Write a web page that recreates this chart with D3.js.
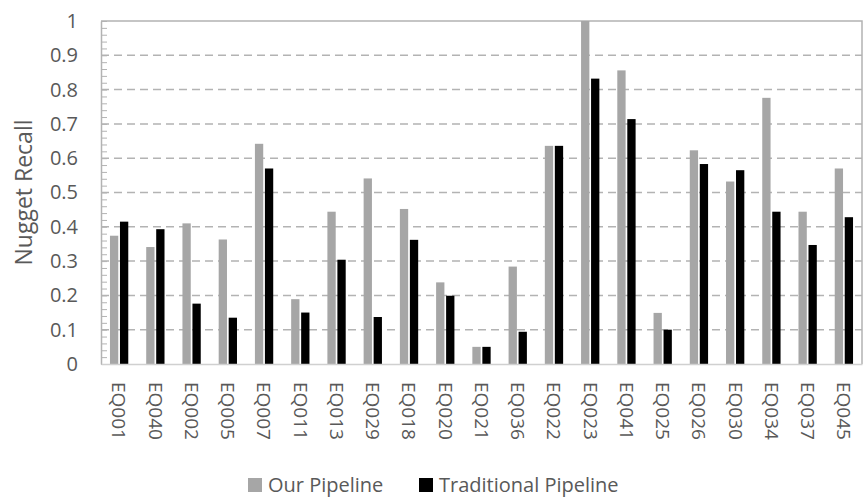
<!DOCTYPE html>
<html>
<head>
<meta charset="utf-8">
<script src="https://cdn.jsdelivr.net/npm/d3@7"></script>
<style>
  body { margin: 0; background: #fff; }
  text { font-family: "Open Sans", sans-serif; fill: #595959; }
</style>
</head>
<body>
<script>
// chart data
const categories = ["EQ001","EQ040","EQ002","EQ005","EQ007","EQ011","EQ013","EQ029","EQ018","EQ020",
                    "EQ021","EQ036","EQ022","EQ023","EQ041","EQ025","EQ026","EQ030","EQ034","EQ037","EQ045"];
const seriesNames = ["Our Pipeline", "Traditional Pipeline"];
const ourPipeline = [0.374, 0.341, 0.41, 0.363, 0.642, 0.189, 0.444, 0.541, 0.452, 0.238,
                     0.05, 0.284, 0.636, 1.0, 0.856, 0.149, 0.623, 0.532, 0.776, 0.444, 0.57];
const traditionalPipeline = [0.415, 0.393, 0.176, 0.135, 0.57, 0.15, 0.304, 0.137, 0.362, 0.199,
                     0.05, 0.094, 0.636, 0.832, 0.714, 0.1, 0.583, 0.565, 0.444, 0.347, 0.428];
const yTickValues = [0, 0.1, 0.2, 0.3, 0.4, 0.5, 0.6, 0.7, 0.8, 0.9, 1];
const yTickLabels = ["0","0.1","0.2","0.3","0.4","0.5","0.6","0.7","0.8","0.9","1"];
const colors = ["#a6a6a6", "#000000"];

const width = 867, height = 497;
const plot = {left: 101, right: 862, top: 21, bottom: 364};

const svg = d3.select("body").append("svg")
    .attr("width", width)
    .attr("height", height);

const y = d3.scaleLinear().domain([0, 1]).range([plot.bottom, plot.top]);
const x0 = d3.scaleBand().domain(categories).range([plot.left, plot.right])
    .paddingInner(0.495).paddingOuter(0.2475);
const x1 = d3.scaleBand().domain(seriesNames).range([0, x0.bandwidth()]).paddingInner(0.17);

// gridlines (dashed)
svg.append("g")
    .selectAll("line")
    .data(yTickValues.filter(d => d > 0 && d < 1))
    .enter().append("line")
    .attr("x1", plot.left).attr("x2", plot.right)
    .attr("y1", d => y(d)).attr("y2", d => y(d))
    .attr("stroke", "#b3b3b3")
    .attr("stroke-width", 1.5)
    .attr("stroke-dasharray", "8,5");

// top + right border
svg.append("path")
    .attr("d", `M${plot.left},${y(1)}H${plot.right}V${plot.bottom}`)
    .attr("fill", "none")
    .attr("stroke", "#b3b3b3")
    .attr("stroke-width", 1.5);

// bars
const rows = categories.map((c, i) => ({cat: c, vals: [ourPipeline[i], traditionalPipeline[i]]}));
svg.append("g")
    .selectAll("g")
    .data(rows)
    .enter().append("g")
    .attr("transform", d => "translate(" + x0(d.cat) + ",0)")
    .selectAll("rect")
    .data(d => d.vals.map((v, j) => ({key: seriesNames[j], v: v, j: j})))
    .enter().append("rect")
    .attr("x", d => x1(d.key))
    .attr("width", x1.bandwidth())
    .attr("y", d => y(d.v))
    .attr("height", d => y(0) - y(d.v))
    .attr("fill", d => colors[d.j]);

// minor ticks on left axis
const minorAxis = svg.append("g")
    .attr("transform", "translate(" + plot.left + ",0)")
    .call(d3.axisLeft(y).tickValues(d3.range(0, 51).map(i => i / 50)).tickSize(-6).tickFormat(""));
minorAxis.select(".domain").remove();
minorAxis.selectAll("line").attr("stroke", "#b3b3b3").attr("stroke-width", 1);

// left axis line + labels
const yAxis = svg.append("g")
    .attr("transform", "translate(" + plot.left + ",0)")
    .call(d3.axisLeft(y).tickValues(yTickValues).tickSize(0).tickPadding(23)
        .tickFormat((d, i) => yTickLabels[i]));
yAxis.select(".domain").attr("stroke", "#b3b3b3").attr("stroke-width", 1.5);
yAxis.selectAll("text").style("font-size", "20px").attr("font-family", null);

// bottom axis
const xAxis = svg.append("g")
    .attr("transform", "translate(0," + plot.bottom + ")")
    .call(d3.axisBottom(x0).tickSize(0));
xAxis.select(".domain").attr("stroke", "#d0d0d0").attr("stroke-width", 1.5);
xAxis.selectAll("text")
    .style("font-size", "19px")
    .attr("font-family", null)
    .attr("transform", "rotate(90)")
    .attr("x", 18)
    .attr("y", 0)
    .attr("dy", "0.35em")
    .attr("text-anchor", "start");

// y axis title
svg.append("text")
    .attr("transform", "translate(32," + ((plot.top + plot.bottom) / 2) + ") rotate(-90)")
    .attr("text-anchor", "middle")
    .style("font-size", "23px")
    .text("Nugget Recall");

// legend
const legendX = [248, 419];
const legend = svg.append("g")
    .selectAll("g")
    .data(seriesNames)
    .enter().append("g")
    .attr("transform", (d, i) => "translate(" + legendX[i] + ",478)");
legend.append("rect")
    .attr("width", 14).attr("height", 14)
    .attr("fill", (d, i) => colors[i]);
legend.append("text")
    .attr("x", 20).attr("y", 7).attr("dy", "0.35em")
    .style("font-size", "20px")
    .text(d => d);
</script>
</body>
</html>
